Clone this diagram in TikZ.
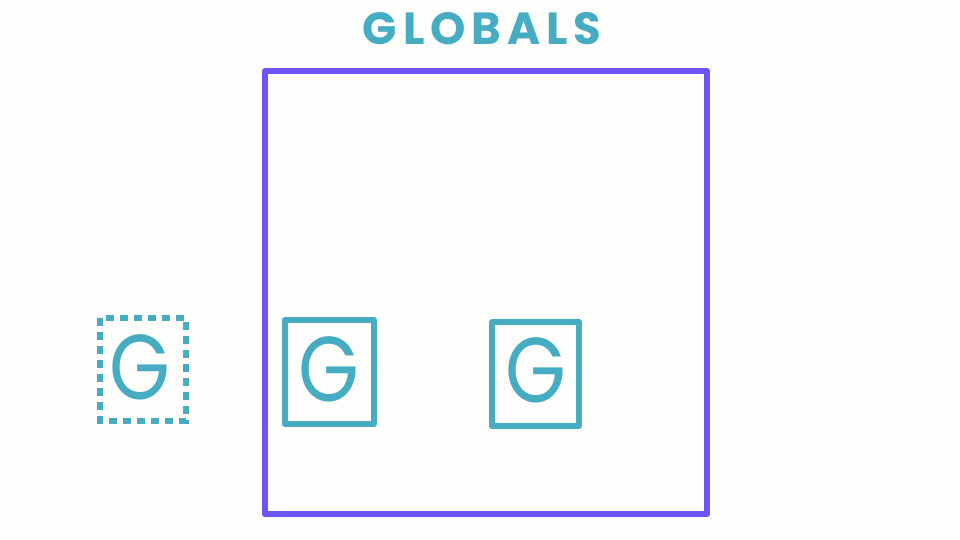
\documentclass[tikz,border=0pt]{standalone}
\usepackage{fontspec}
\setmainfont{Poppins}
\newfontfamily\titlefont[LetterSpace=13]{Poppins}
\definecolor{teal}{HTML}{45ACC2}
\definecolor{purp}{HTML}{6B55F5}
\definecolor{bg}{HTML}{FDFDFB}
\begin{document}
\begin{tikzpicture}[x=1pt,y=-1pt,
  bigbox/.style={draw=purp,line width=6.5pt,line join=round,line cap=round},
  gbox/.style={draw=teal,line width=6pt,line join=round,line cap=round},
  dotbox/.style={draw=teal,line width=6pt,dash pattern=on 8pt off 6pt},
  gletter/.style={text=teal,xscale=0.85,font=\fontsize{92}{92}\selectfont},
  title/.style={text=teal,font=\titlefont\bfseries\fontsize{45}{45}\selectfont}]
\fill[bg] (0,0) rectangle (960,540);
\useasboundingbox (0,0) rectangle (960,540);
\node[title] (t) at (482,29) {GLOBALS};
\draw[bigbox] (265,71) rectangle (707,514);
\draw[dotbox] (100,318) rectangle (186,421);
\draw[gbox] (285,320) rectangle (374,424);
\draw[gbox] (492,322) rectangle (579,426);
\node[gletter] (g1) at (140,367) {G};
\node[gletter] (g2) at (329,369) {G};
\node[gletter] (g3) at (536,370) {G};
\end{tikzpicture}
\end{document}
